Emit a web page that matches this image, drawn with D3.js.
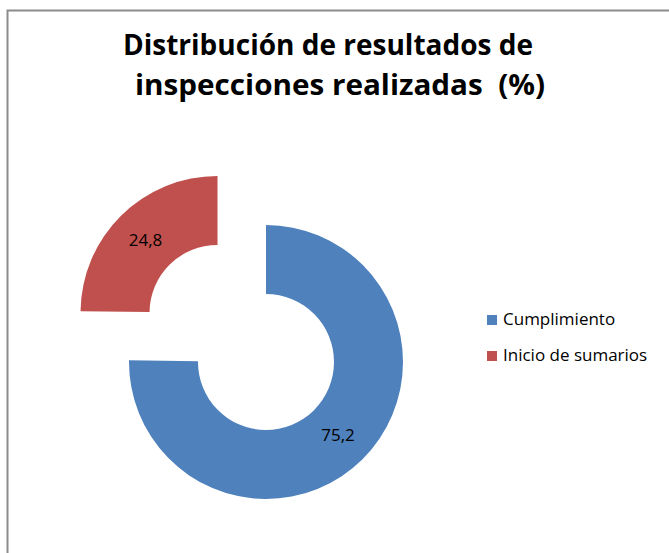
<!DOCTYPE html>
<html>
<head>
<meta charset="utf-8">
<script src="https://cdn.jsdelivr.net/npm/d3@7"></script>
<style>
  html, body { margin: 0; padding: 0; background: #fff; }
  svg { display: block; }
</style>
</head>
<body>
<svg id="chart"></svg>
<script>
var categories = ["Cumplimiento", "Inicio de sumarios"];
var values = [75.2, 24.8];
var labels = ["75,2", "24,8"];
var colors = ["#4f81bd", "#c0504d"];
var titleLines = ["Distribución de resultados de", "inspecciones realizadas  (%)"];

var width = 669, height = 553;
var svg = d3.select("#chart").attr("width", width).attr("height", height);
var font = "'Open Sans', 'Noto Sans', sans-serif";

// chart frame (cut off at right and bottom like the screenshot)
svg.append("rect")
    .attr("x", 7.5).attr("y", 10.5)
    .attr("width", 700).attr("height", 600)
    .attr("fill", "none")
    .attr("stroke", "#8c8c8c")
    .attr("stroke-width", 2);

// title
svg.append("g").selectAll("text")
    .data(titleLines)
    .enter().append("text")
    .attr("x", function (d, i) { return i == 0 ? 328 : 340; })
    .attr("y", function (d, i) { return 55 + i * 40; })
    .attr("text-anchor", "middle")
    .attr("textLength", 410)
    .attr("lengthAdjust", "spacingAndGlyphs")
    .style("white-space", "pre")
    .style("font-family", font)
    .style("font-weight", "bold")
    .style("font-size", "29px")
    .attr("fill", "#000")
    .text(function (d) { return d; });

// donut
var cx = 266, cy = 362;
var outerR = 137, innerR = 68, explode = 69;

var pie = d3.pie().sort(null).value(function (d) { return d; });
var arc = d3.arc().innerRadius(innerR).outerRadius(outerR);
var arcs = pie(values);

var g = svg.append("g").attr("transform", "translate(" + cx + "," + cy + ")");

var slice = g.selectAll("g.slice")
    .data(arcs)
    .enter().append("g")
    .attr("class", "slice")
    .attr("transform", function (d, i) {
        if (i == 0) return null;
        var a = (d.startAngle + d.endAngle) / 2;
        return "translate(" + (Math.sin(a) * explode) + "," + (-Math.cos(a) * explode) + ")";
    });

slice.append("path")
    .attr("d", arc)
    .attr("fill", function (d, i) { return colors[i]; });

slice.append("text")
    .attr("transform", function (d) { return "translate(" + arc.centroid(d) + ")"; })
    .attr("text-anchor", "middle")
    .attr("dy", "0.35em")
    .style("font-family", font)
    .style("font-size", "17px")
    .attr("fill", "#000")
    .text(function (d, i) { return labels[i]; });

// legend
var legend = svg.append("g").attr("transform", "translate(487,315)");
var item = legend.selectAll("g")
    .data(categories)
    .enter().append("g")
    .attr("transform", function (d, i) { return "translate(0," + i * 36 + ")"; });

item.append("rect")
    .attr("width", 10).attr("height", 10)
    .attr("fill", function (d, i) { return colors[i]; });

item.append("text")
    .attr("x", 16).attr("y", 10)
    .style("font-family", font)
    .style("font-size", "17px")
    .attr("fill", "#000")
    .text(function (d) { return d; });
</script>
</body>
</html>
